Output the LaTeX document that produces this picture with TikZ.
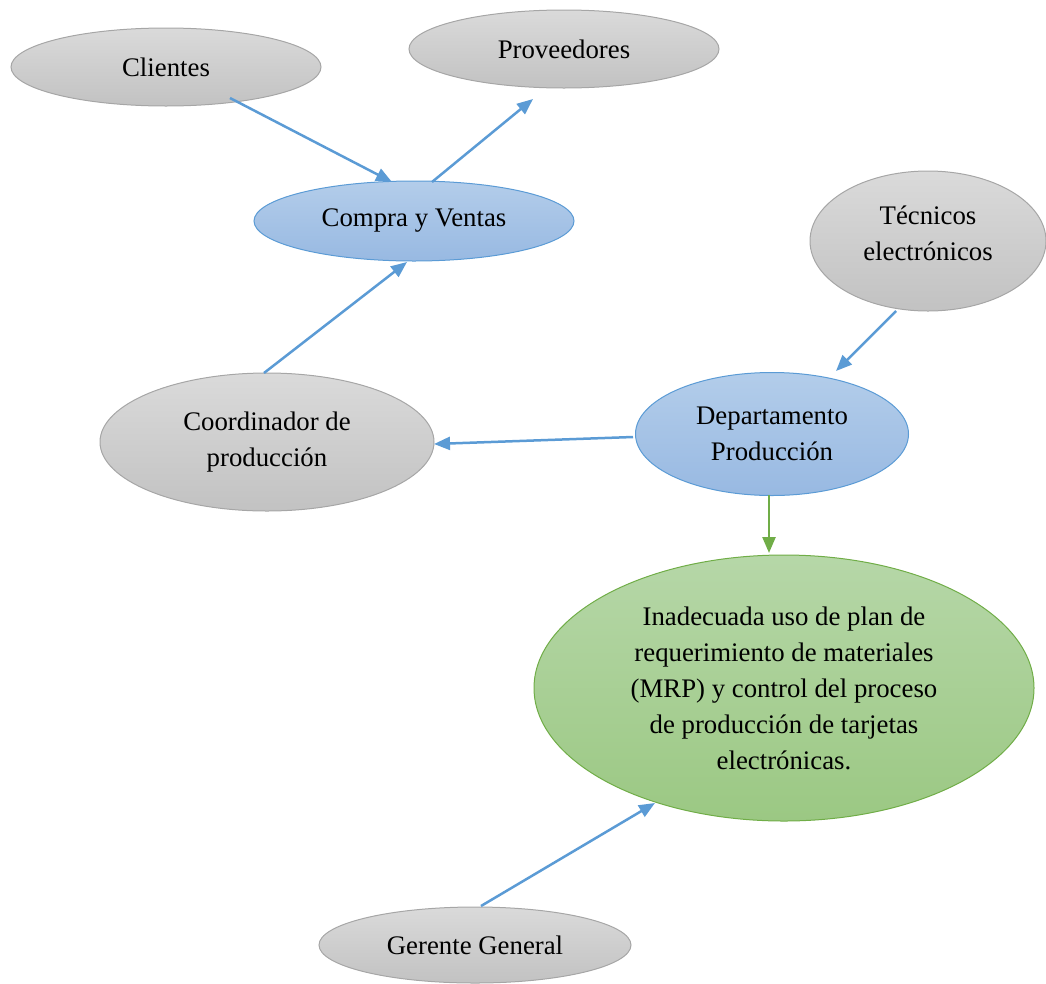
\documentclass[tikz,border=0pt]{standalone}
\usepackage{fontspec}
\setmainfont{Liberation Serif}
\usetikzlibrary{shapes.geometric,arrows.meta,calc}

\definecolor{grayedge}{HTML}{A6A6A6}
\definecolor{graytop}{HTML}{DADADA}
\definecolor{graybot}{HTML}{C2C2C2}
\definecolor{blueedge}{HTML}{5B9BD5}
\definecolor{bluetop}{HTML}{B3CDEA}
\definecolor{bluebot}{HTML}{98B9E2}
\definecolor{greenedge}{HTML}{70AD47}
\definecolor{greentop}{HTML}{B6D7A8}
\definecolor{greenbot}{HTML}{9BC883}

\tikzset{
  bubble/.style={ellipse, inner sep=0pt, outer sep=0pt, align=center,
    line width=1pt, font=\fontsize{26.8}{36}\selectfont},
  graybubble/.style={bubble, draw=grayedge, top color=graytop, bottom color=graybot},
  bluebubble/.style={bubble, draw=blueedge, top color=bluetop, bottom color=bluebot},
  greenbubble/.style={bubble, draw=greenedge, top color=greentop, bottom color=greenbot},
  link/.style={line width=2.5pt, draw=blueedge,
    -{Triangle[length=16pt,width=13pt,fill=blueedge]}},
  greenlink/.style={link, draw=greenedge,
    -{Triangle[length=16pt,width=13pt,fill=greenedge]}}
}

\begin{document}
\begin{tikzpicture}[x=1pt,y=-1pt]
\useasboundingbox (0,0) rectangle (1046,983);

% actors and departments
\node[graybubble, minimum width=310pt, minimum height=78pt] (cli) at (166,67) {Clientes};
\node[graybubble, minimum width=310pt, minimum height=78pt] (prov) at (564,49) {Proveedores};
\node[bluebubble, minimum width=320pt, minimum height=80pt] (cv) at (414,221) {Compra y Ventas};
\node[graybubble, minimum width=236pt, minimum height=140pt] (tec) at (928,241) {Técnicos\\electrónicos\\[-31pt]\strut};
\node[bluebubble, minimum width=273pt, minimum height=123pt] (dep) at (772,434) {Departamento\\Producción};
\node[graybubble, minimum width=334pt, minimum height=138pt] (coord) at (267,442) {Coordinador de\\producción};
\node[greenbubble, minimum width=500pt, minimum height=266pt] (inad) at (784,688)
  {Inadecuada uso de plan de\\requerimiento de materiales\\(MRP) y control del proceso\\de producción de tarjetas\\electrónicas.};
\node[graybubble, minimum width=312pt, minimum height=76pt] (ger) at (475,945) {Gerente General};

% relations
\draw[link] ($(cli)+(64,31)$) -- ($(cv)+(-22,-39)$);
\draw[link] ($(cv)+(18,-39)$) -- ($(prov)+(-31,50)$);
\draw[link] ($(coord)+(-3,-69)$) -- ($(cv)+(-7,41)$);
\draw[link] ($(tec)+(-32,70)$) -- ($(dep)+(64,-63)$);
\draw[link] ($(dep)+(-139,3)$) -- ($(coord)+(167,2)$);
\draw[greenlink] ($(dep)+(-3,61)$) -- ($(inad)+(-15,-135)$);
\draw[link] ($(ger)+(6,-39)$) -- ($(inad)+(-129,115)$);
\end{tikzpicture}
\end{document}
